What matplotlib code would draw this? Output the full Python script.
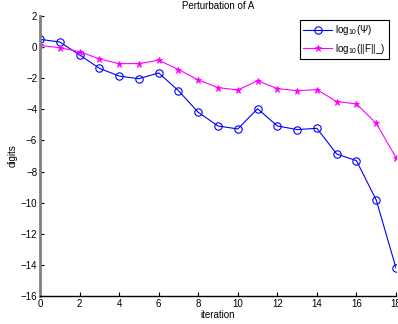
import matplotlib
matplotlib.use('Agg')
import matplotlib.pyplot as plt

plt.rcParams['font.family'] = ['Liberation Sans', 'DejaVu Sans']
plt.rcParams['mathtext.fontset'] = 'custom'
plt.rcParams['mathtext.rm'] = 'Liberation Sans'
plt.rcParams['mathtext.it'] = 'Liberation Sans:italic'

# ── Data ─────────────────────────────────────────────────────────────────────
iterations = list(range(19))
log_psi = [0.5, 0.33, -0.5, -1.36, -1.86, -2.03, -1.66, -2.8, -4.19, -5.07,
           -5.26, -3.96, -5.07, -5.3, -5.22, -6.87, -7.3, -9.83, -14.2]
log_fnorm = [0.11, -0.04, -0.29, -0.76, -1.06, -1.06, -0.84, -1.44, -2.11, -2.6,
             -2.76, -2.16, -2.67, -2.8, -2.73, -3.5, -3.65, -4.9, -7.1]

x_ticks = list(range(0, 19, 2))
y_ticks = list(range(-16, 3, 2))

fig = plt.figure(figsize=(3.98, 3.24), dpi=100)
ax = fig.add_axes([0.1005, 0.0864, 0.8945, 0.8642])

ax.plot(iterations, log_psi, '-o', color='#0000ff', linewidth=0.8,
        markersize=5.3, markerfacecolor='none', markeredgewidth=0.8,
        label=r'log$_{10}$($\Psi$)')
ax.plot(iterations, log_fnorm, '-*', color='#ff00ff', linewidth=0.8,
        markersize=5, markeredgewidth=0.6,
        label=r'log$_{10}$(||F||_)')

ax.set_xlim(0, 18)
ax.set_ylim(-16, 2)
ax.set_xticks(x_ticks)
ax.set_yticks(y_ticks)
ax.tick_params(direction='in', labelsize=7, length=3, width=0.8, pad=2)

for side in ('top', 'right'):
    ax.spines[side].set_visible(False)
ax.spines['left'].set_color('#808080')
ax.spines['left'].set_linewidth(2)
ax.spines['bottom'].set_color('black')
ax.spines['bottom'].set_linewidth(1)

ax.set_title('Perturbation of A', fontsize=7, pad=5)
ax.set_xlabel('iteration', fontsize=7, labelpad=1)
ax.set_ylabel('digits', fontsize=7, labelpad=2)

leg = ax.legend(loc='upper right', bbox_to_anchor=(0.980, 0.986), fontsize=7,
                frameon=True, fancybox=False, framealpha=1, edgecolor='black',
                handlelength=3.0, handletextpad=0.3, borderpad=0.35,
                labelspacing=0.45, borderaxespad=0)
leg.get_frame().set_linewidth(0.8)

fig.savefig('out.png', dpi=100)
